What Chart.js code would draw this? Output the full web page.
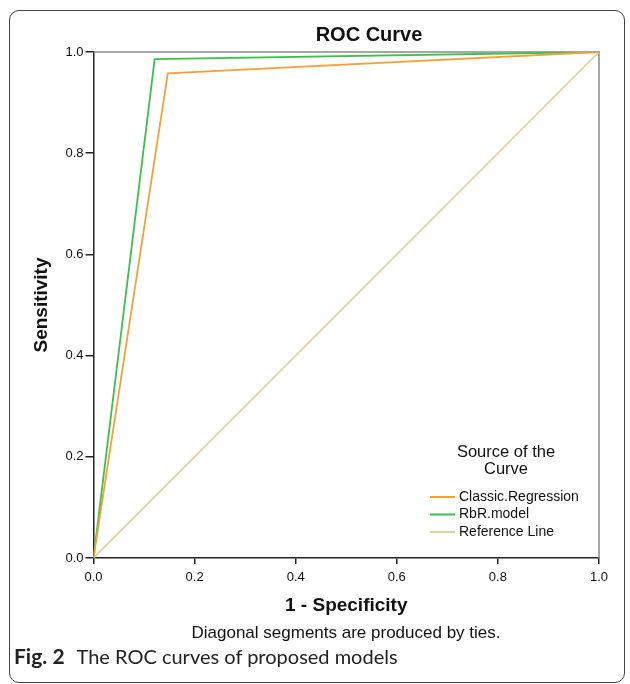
<!DOCTYPE html>
<html>
<head>
<meta charset="utf-8">
<script src="https://cdn.jsdelivr.net/npm/chart.js@4/dist/chart.umd.min.js"></script>
<style>
  html, body { margin: 0; padding: 0; background: #fff; }
  #wrap { position: relative; width: 630px; height: 684px; overflow: hidden; }
  #frame { position: absolute; left: 9px; top: 10px; width: 616px; height: 673px;
           border: 1px solid #444; border-radius: 10px; box-sizing: border-box; }
  #c { position: absolute; left: 0; top: 0; }
  #cap { position: absolute; left: 14px; top: 644px; font-family: Lato, "Open Sans", sans-serif;
         font-size: 20px; line-height: 24px; color: #222; white-space: nowrap; }
  #cap b { font-weight: 700; font-size: 21px; margin-right: 12px; }
</style>
</head>
<body>
<div id="wrap">
  <div id="frame"></div>
  <canvas id="c" width="630" height="684"></canvas>
  <div id="cap"><b>Fig. 2</b>The ROC curves of proposed models</div>
</div>
<script>
// ---- data ----
const seriesNames = ["Classic.Regression", "RbR.model", "Reference Line"];
const classicFpr = [0, 0.147, 1];
const classicTpr = [0, 0.958, 1];
const rbrFpr = [0, 0.121, 1];
const rbrTpr = [0, 0.986, 1];
const refFpr = [0, 1];
const refTpr = [0, 1];
const tickValues = [0, 0.2, 0.4, 0.6, 0.8, 1.0];
const chartTitle = "ROC Curve";
const noteText = "Diagonal segments are produced by ties.";
const legendTitle = ["Source of the", "Curve"];
const colors = ["#f5a13a", "#3dbf4b", "#dcd6a4"];

const toPts = (xs, ys) => xs.map((x, i) => ({ x: x, y: ys[i] }));
const FONT = "'Liberation Sans', Arial, sans-serif";

const boxPlugin = {
  id: 'boxPlugin',
  beforeDatasetsDraw(chart) {
    const { ctx, chartArea: a } = chart;
    ctx.save();
    ctx.strokeStyle = '#8a8a8a';
    ctx.lineWidth = 1.5;
    ctx.beginPath();
    ctx.moveTo(a.left, a.top);
    ctx.lineTo(a.right, a.top);
    ctx.lineTo(a.right, a.bottom);
    ctx.stroke();
    ctx.restore();
  }
};

const textPlugin = {
  id: 'textPlugin',
  afterDraw(chart) {
    const { ctx } = chart;
    ctx.save();
    ctx.fillStyle = '#111';
    ctx.textAlign = 'center';
    ctx.textBaseline = 'middle';
    // chart title
    ctx.font = 'bold 20px ' + FONT;
    ctx.fillText(chartTitle, 369, 35);
    // footnote
    ctx.font = '17px ' + FONT;
    ctx.fillText(noteText, 346, 633);
    // legend
    ctx.font = '16.5px ' + FONT;
    ctx.fillText(legendTitle[0], 506, 452);
    ctx.fillText(legendTitle[1], 506, 469);
    ctx.textAlign = 'left';
    ctx.font = '14px ' + FONT;
    chart.data.datasets.forEach((ds, i) => {
      const y = 497 + i * 17.5;
      ctx.strokeStyle = ds.borderColor;
      ctx.lineWidth = 2;
      ctx.beginPath();
      ctx.moveTo(430, y);
      ctx.lineTo(455, y);
      ctx.stroke();
      ctx.fillText(ds.label, 459, y);
    });
    ctx.restore();
  }
};

new Chart(document.getElementById('c'), {
  type: 'scatter',
  data: {
    datasets: [
      { label: seriesNames[0], data: toPts(classicFpr, classicTpr), borderColor: colors[0] },
      { label: seriesNames[1], data: toPts(rbrFpr, rbrTpr), borderColor: colors[1] },
      { label: seriesNames[2], data: toPts(refFpr, refTpr), borderColor: colors[2] }
    ].map(d => Object.assign(d, { showLine: true, pointRadius: 0, borderWidth: 1.8, fill: false, tension: 0 }))
  },
  options: {
    responsive: false,
    animation: false,
    layout: { padding: { left: 20, right: 31, top: 52, bottom: 62.6 } },
    plugins: {
      legend: { display: false },
      tooltip: { enabled: false },
      title: { display: false }
    },
    scales: {
      x: {
        type: 'linear', min: 0, max: 1,
        afterBuildTicks: s => { s.ticks = tickValues.map(v => ({ value: v })); },
        afterFit: s => { s.height = 63.4; },
        ticks: { color: '#111', font: { family: FONT, size: 13 }, padding: 6, callback: v => v.toFixed(1) },
        grid: { drawOnChartArea: false, drawTicks: true, tickLength: 6, color: '#222', lineWidth: 1.5 },
        border: { display: true, color: '#222', width: 1.5 },
        title: { display: true, text: '1 - Specificity', color: '#111',
                 font: { family: FONT, size: 19, weight: 'bold' }, padding: { top: 4, bottom: 4 } }
      },
      y: {
        type: 'linear', min: 0, max: 1,
        afterBuildTicks: s => { s.ticks = tickValues.map(v => ({ value: v })); },
        afterFit: s => { s.width = 73.5; },
        ticks: { color: '#111', font: { family: FONT, size: 13 }, padding: 2, callback: v => v.toFixed(1) },
        grid: { drawOnChartArea: false, drawTicks: true, tickLength: 8, color: '#222', lineWidth: 1.5 },
        border: { display: true, color: '#222', width: 1.5 },
        title: { display: true, text: 'Sensitivity', color: '#111',
                 font: { family: FONT, size: 19, weight: 'bold' }, padding: { top: 10, bottom: 4 } }
      }
    }
  },
  plugins: [boxPlugin, textPlugin]
});
</script>
</body>
</html>
